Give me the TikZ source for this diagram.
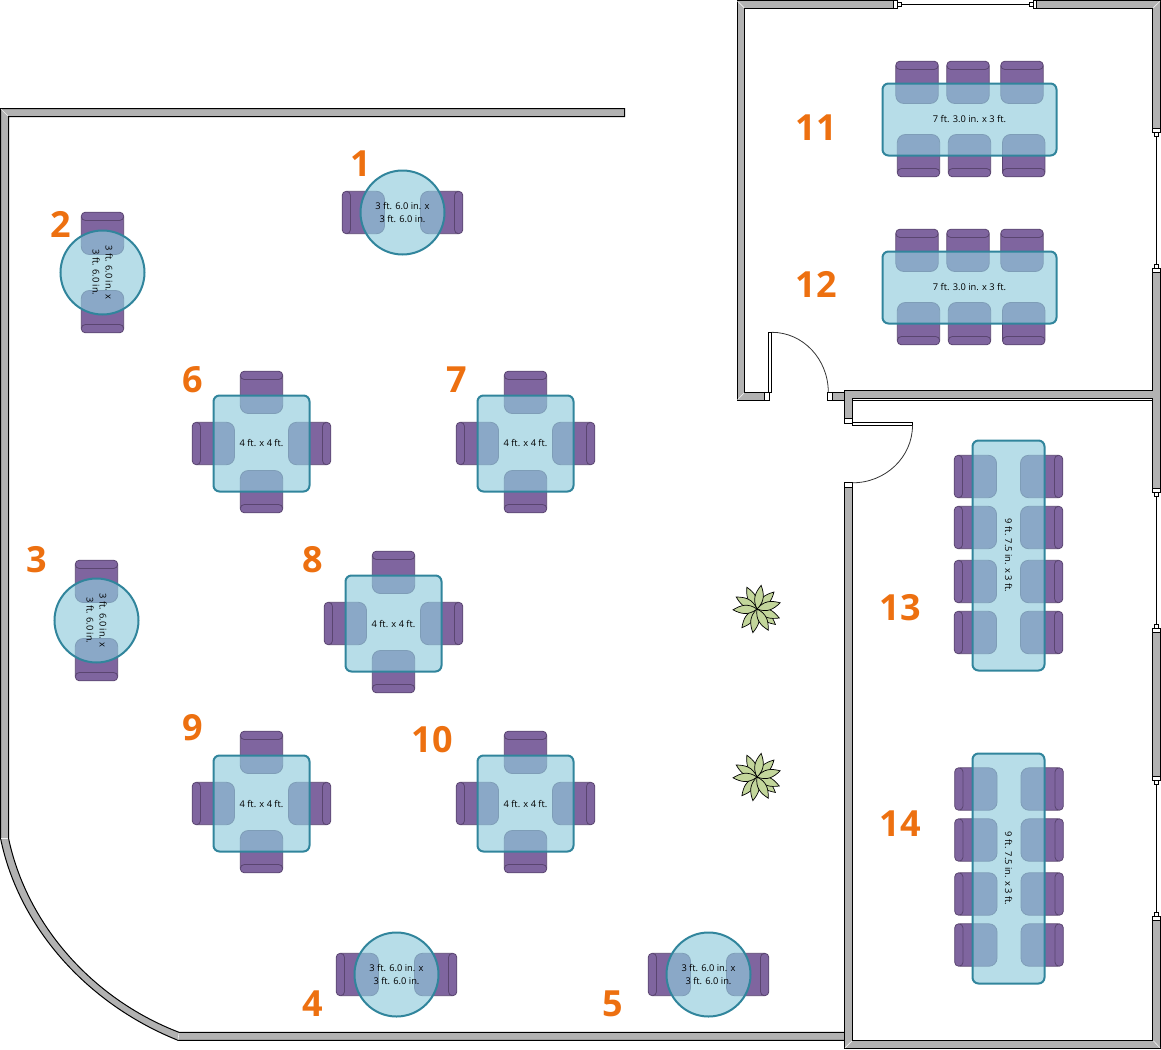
\documentclass[tikz,border=0pt]{standalone}
\usepackage{fontspec}
\setmainfont{Open Sans}
\definecolor{wallgray}{HTML}{B2B2B2}
\definecolor{chairfill}{HTML}{7F659F}
\definecolor{chairline}{HTML}{5A4570}
\definecolor{tablefill}{HTML}{91CBDC}
\definecolor{tableline}{HTML}{31859C}
\definecolor{numorange}{HTML}{ED7010}
\definecolor{leafgreen}{HTML}{C3D69B}
\tikzset{
    wall/.style={fill=wallgray,draw=black,line width=1pt,line join=miter},
    mitre/.style={draw=white!80!wallgray,line width=0.6pt},
    jamb/.style={fill=white,draw=black,line width=1pt},
    glass/.style={draw=black,line width=1.2pt},
    swing/.style={draw=black!80,line width=0.8pt},
    tablebase/.style={fill=tablefill,fill opacity=0.66,text opacity=1,draw=tableline,draw opacity=1,
        line width=2pt,inner sep=0pt,align=center,font=\fontsize{9.3}{13}\selectfont},
    squaretable/.style={tablebase,rectangle,rounded corners=6pt,minimum width=96pt,minimum height=96pt},
    roundtable/.style={tablebase,circle,minimum size=84pt},
    longtable/.style={tablebase,rectangle,rounded corners=6pt,minimum width=174pt,minimum height=72pt},
    hugetable/.style={tablebase,rectangle,rounded corners=6pt,minimum width=230pt,minimum height=72pt},
    num/.style={text=numorange,font=\fontsize{36}{36}\selectfont\bfseries,inner sep=0pt},
    chair/.pic={
        \draw[fill=chairfill,draw=chairline,line width=0.8pt]
            (-21.2,-16) -- (-21.2,13) arc[start angle=180,end angle=270,x radius=8,y radius=-8]
            -- (13.2,21) arc[start angle=270,end angle=360,x radius=8,y radius=-8] -- (21.2,-16) -- cycle;
        \draw[fill=chairfill,draw=chairline,line width=0.8pt,rounded corners=4pt]
            (-21.2,-21.3) rectangle (21.2,-13);
    },
    plant/.pic={
        \foreach \a in {-40,45,-129,115,-22,150,15,-100,80,-62,-178} {
            \draw[rotate=\a,fill=leafgreen,draw=black,line width=0.7pt]
                (0,0) .. controls (9,-6.5) and (16,-4.5) .. (24,0) .. controls (16,4.5) and (9,6.5) .. (0,0);
        }
    }
}
\begin{document}
\begin{tikzpicture}[x=1pt,y=-1pt]
    \useasboundingbox (0,0) rectangle (1161,1049);
    % main room
    \draw[wall] (0.5,108.5) -- (624.5,108.5) -- (624.5,116.5) -- (8.5,116.5) -- (8.5,838)
        .. controls (26,922) and (90,998) .. (179,1032.3) -- (844.5,1032.3) -- (844.5,1040.3) -- (178,1040.3)
        .. controls (85,1003) and (18,925) .. (0.5,838) -- cycle;
    \draw[mitre] (1,109) -- (8,116);
    \draw[mitre] (1,838) -- (8,838);
    \draw[mitre] (179,1033) -- (178,1040);
    % upper room
    \draw[wall] (764.5,392.3) -- (744.7,392.3) -- (744.7,8.3) -- (893,8.3) -- (893,0.7) -- (737,0.7) -- (737,400.3) -- (764.5,400.3) -- cycle;
    \draw[wall] (1036,0.7) -- (1160.5,0.7) -- (1160.5,128) -- (1152.8,128) -- (1152.8,8.3) -- (1036,8.3) -- cycle;
    \draw[wall] (832,392.3) -- (844.5,392.3) -- (844.5,400.3) -- (832,400.3) -- cycle;
    \draw[mitre] (737.5,1.2) -- (744.2,7.8);
    \draw[mitre] (737.5,399.8) -- (744.2,392.8);
    \draw[mitre] (1160,1.2) -- (1153.3,7.8);
    % lower room
    \draw[wall] (844.5,418) -- (844.5,390.3) -- (1152.8,390.3) -- (1152.8,272) -- (1160.5,272) -- (1160.5,488)
        -- (1152.8,488) -- (1152.8,398.5) -- (852.5,398.5) -- (852.5,418) -- cycle;
    \draw[draw=black,line width=1pt] (852.5,400.6) -- (1152.8,400.6);
    \draw[wall] (844.5,487) -- (852.5,487) -- (852.5,1040.3) -- (1152.8,1040.3) -- (1152.8,920) -- (1160.5,920)
        -- (1160.5,1048.3) -- (844.5,1048.3) -- cycle;
    \draw[mitre] (845,1047.8) -- (852,1040.8);
    \draw[mitre] (1160,1047.8) -- (1153.3,1040.8);
    \draw[wall] (1152.8,632) rectangle (1160.5,776);
    % windows
    \draw[glass] (901,4.5) -- (1029,4.5);
    \draw[glass] (1156.7,136) -- (1156.7,264);
    \draw[glass] (1156.7,496) -- (1156.7,624);
    \draw[glass] (1156.7,784) -- (1156.7,912);
    \draw[jamb] (893,0.7) rectangle (897,8.3);
    \draw[jamb] (897,2.7) rectangle (901,6.3);
    \draw[jamb] (1029,2.7) rectangle (1033,6.3);
    \draw[jamb] (1033,0.7) rectangle (1036,8.3);
    \foreach \y in {128,488,776} {
        \draw[jamb] (1152.8,\y) rectangle (1160.5,\y+4);
        \draw[jamb] (1154.8,\y+4) rectangle (1158.8,\y+8);
    }
    \foreach \y in {264,624,912} {
        \draw[jamb] (1154.8,\y) rectangle (1158.8,\y+4);
        \draw[jamb] (1152.8,\y+4) rectangle (1160.5,\y+8);
    }
    % doors
    \draw[jamb] (764.5,392.3) rectangle (769,400.3);
    \draw[jamb] (827.5,392.3) rectangle (832,400.3);
    \draw[jamb] (768.8,332.3) rectangle (771.8,392.3);
    \draw[swing] (771.8,332.3) arc[start angle=90,end angle=0,x radius=56.5,y radius=-60];
    \draw[jamb] (844.5,418) rectangle (852.5,423);
    \draw[jamb] (844.5,482.5) rectangle (852.5,487);
    \draw[jamb] (852.5,422.3) rectangle (912.5,425.3);
    \draw[swing] (912.5,425.3) arc[start angle=0,end angle=-90,x radius=60,y radius=-57.5];
    % plants
    \pic at (757,609) {plant};
    \pic at (757,777) {plant};
    % chairs
    \begin{scope}
        \pic[rotate=90] at (363.5,212.5) {chair};
        \pic[rotate=-90] at (441.5,212.5) {chair};
        \pic at (102.5,233.5) {chair};
        \pic[rotate=180] at (102.5,311.5) {chair};
        \pic at (96.5,581.5) {chair};
        \pic[rotate=180] at (96.5,659.5) {chair};
        \pic[rotate=90] at (357.5,974.5) {chair};
        \pic[rotate=-90] at (435.5,974.5) {chair};
        \pic[rotate=90] at (669.5,974.5) {chair};
        \pic[rotate=-90] at (747.5,974.5) {chair};
        \foreach \cx/\cy in {261.5/443.5,525.5/443.5,393.5/623.5,261.5/803.5,525.5/803.5} {
            \pic at (\cx,\cy-51) {chair};
            \pic[rotate=180] at (\cx,\cy+48) {chair};
            \pic[rotate=90] at (\cx-48,\cy) {chair};
            \pic[rotate=-90] at (\cx+48,\cy) {chair};
        }
        \foreach \cy in {0,168} {
            \pic at (917,82.5+\cy) {chair};
            \pic at (968,82.5+\cy) {chair};
            \pic at (1022,82.5+\cy) {chair};
            \pic[rotate=180] at (918.5,155.5+\cy) {chair};
            \pic[rotate=180] at (969.5,155.5+\cy) {chair};
            \pic[rotate=180] at (1023.7,155.5+\cy) {chair};
        }
        \foreach \cy in {476.5,527.5,581.5,632.5} {
            \pic[rotate=90] at (975.5,\cy) {chair};
            \pic[rotate=-90] at (1041.5,\cy) {chair};
            \pic[rotate=90] at (976,\cy+312.5) {chair};
            \pic[rotate=-90] at (1042,\cy+312.5) {chair};
        }
    \end{scope}
    % tables
    \node[roundtable] (t1) at (402.5,212.5) {3 ft. 6.0 in. x\\3 ft. 6.0 in.};
    \node[roundtable,rotate=-90] (t2) at (102.5,272.5) {3 ft. 6.0 in. x\\3 ft. 6.0 in.};
    \node[roundtable,rotate=-90] (t3) at (96.5,620.5) {3 ft. 6.0 in. x\\3 ft. 6.0 in.};
    \node[roundtable] (t4) at (396.5,974.5) {3 ft. 6.0 in. x\\3 ft. 6.0 in.};
    \node[roundtable] (t5) at (708.5,974.5) {3 ft. 6.0 in. x\\3 ft. 6.0 in.};
    \node[squaretable] (t6) at (261.5,443.5) {4 ft. x 4 ft.};
    \node[squaretable] (t7) at (525.5,443.5) {4 ft. x 4 ft.};
    \node[squaretable] (t8) at (393.5,623.5) {4 ft. x 4 ft.};
    \node[squaretable] (t9) at (261.5,803.5) {4 ft. x 4 ft.};
    \node[squaretable] (t10) at (525.5,803.5) {4 ft. x 4 ft.};
    \node[longtable] (t11) at (969.5,119.5) {7 ft. 3.0 in. x 3 ft.};
    \node[longtable] (t12) at (969.5,287.5) {7 ft. 3.0 in. x 3 ft.};
    \node[hugetable,rotate=-90] (t13) at (1008.5,555.5) {9 ft. 7.5 in. x 3 ft.};
    \node[hugetable,rotate=-90] (t14) at (1008.5,868.5) {9 ft. 7.5 in. x 3 ft.};
    % numbers
    \node[num] (n1) at (360.5,164) {1};
    \node[num] (n2) at (60.5,224) {2};
    \node[num] (n3) at (36.5,560) {3};
    \node[num] (n4) at (312.5,1004) {4};
    \node[num] (n5) at (612.5,1004) {5};
    \node[num] (n6) at (192.5,380) {6};
    \node[num] (n7) at (456.5,380) {7};
    \node[num] (n8) at (312.5,560) {8};
    \node[num] (n9) at (192.5,728) {9};
    \node[num] (n10) at (432.5,740) {10};
    \node[num] (n11) at (816,128) {11};
    \node[num] (n12) at (816,284) {12};
    \node[num] (n13) at (900,608) {13};
    \node[num] (n14) at (900,824) {14};
\end{tikzpicture}
\end{document}
